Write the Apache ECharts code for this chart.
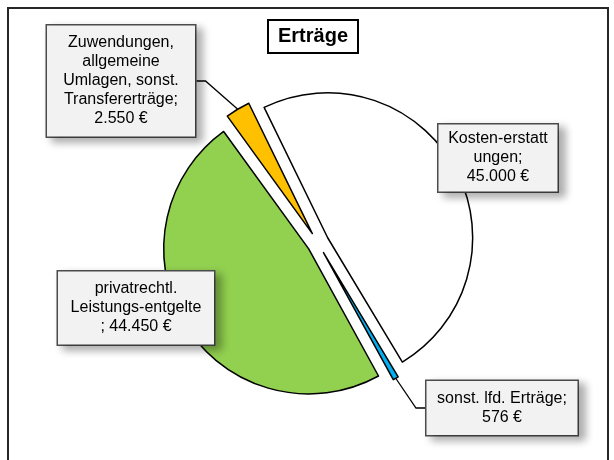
<!DOCTYPE html>
<html>
<head>
<meta charset="utf-8">
<script src="https://cdn.jsdelivr.net/npm/echarts@6/dist/echarts.min.js"></script>
<style>
  html, body { margin: 0; padding: 0; background: #fff; }
  #chart { width: 614px; height: 460px; }
</style>
</head>
<body>
<div id="chart"></div>
<script>
// slices, clockwise from the top
const categories = [
    'Kosten-erstattungen',
    'sonst. lfd. Erträge',
    'privatrechtl. Leistungs-entgelte',
    'Zuwendungen, allgemeine Umlagen, sonst. Transfererträge'
];
const values = [45000, 576, 44450, 2550];
// wrapped label text as in the original
const labelNames = [
    'Kosten-erstatt\nungen;\n',
    'sonst. lfd. Erträge;\n',
    'privatrechtl.\nLeistungs-entgelte\n; ',
    'Zuwendungen,\nallgemeine\nUmlagen, sonst.\nTransfererträge;\n'
];
const colors = ['#ffffff', '#00b0f0', '#92d050', '#ffc000'];

// label boxes: centre x, centre y, box width, vertical padding
const labelBoxes = [
    [498, 158, 120, 5],
    [502, 408, 152, 8],
    [136, 308, 157, 8],
    [121, 81, 149, 8]
];
const showLine = [false, true, false, true];

function fmt(v) {
    return String(v).replace(/\B(?=(\d{3})+(?!\d))/g, '.') + ' €';
}

const font = '"Liberation Sans", Arial, sans-serif';
const pieCenter = [318, 243];
const pieStart = 116;
const explode = 11;

const chart = echarts.init(document.getElementById('chart'));
chart.setOption({
    animation: false,
    backgroundColor: '#fff',
    title: {
        text: 'Erträge',
        left: 268,
        top: 20,
        padding: [5, 10, 5, 10],
        borderColor: '#000',
        borderWidth: 2,
        textStyle: { fontFamily: font, fontSize: 20, fontWeight: 'bold', color: '#000', lineHeight: 23 }
    },
    graphic: [{
        type: 'rect',
        shape: { x: 8, y: 8, width: 600, height: 470 },
        style: { fill: 'none', stroke: '#262626', lineWidth: 2 },
        silent: true
    }],
    series: [{
        // the exploded slices
        type: 'pie',
        center: pieCenter,
        radius: 145,
        startAngle: pieStart,
        clockwise: true,
        selectedMode: 'multiple',
        selectedOffset: explode,
        emphasis: { disabled: true },
        itemStyle: { borderColor: '#000', borderWidth: 1.5 },
        select: { itemStyle: { borderColor: '#000', borderWidth: 1.5 } },
        label: { show: false },
        labelLine: { show: false },
        data: values.map(function (v, i) {
            return {
                name: categories[i],
                value: v,
                selected: true,
                itemStyle: { color: colors[i] }
            };
        })
    }, {
        // same data again, invisible, carries the label boxes and leader lines
        type: 'pie',
        center: pieCenter,
        radius: 145 + explode,
        startAngle: pieStart,
        clockwise: true,
        silent: true,
        emphasis: { disabled: true },
        itemStyle: { color: 'rgba(0,0,0,0)', borderWidth: 0 },
        label: {
            show: true,
            position: 'outside',
            color: '#000',
            fontFamily: font,
            fontSize: 16,
            lineHeight: 19,
            align: 'center',
            backgroundColor: '#f2f2f2',
            borderColor: '#4d4d4d',
            borderWidth: 1.5,
            shadowColor: 'rgba(0,0,0,0.3)',
            shadowBlur: 8,
            shadowOffsetX: 6,
            shadowOffsetY: 4,
            formatter: function (p) {
                return labelNames[p.dataIndex] + fmt(p.value);
            }
        },
        labelLine: {
            show: true,
            length: 10,
            length2: 9,
            smooth: false,
            lineStyle: { color: '#000', width: 1.3, opacity: 1 }
        },
        labelLayout: function (p) {
            const b = labelBoxes[p.dataIndex];
            return { x: b[0], y: b[1], align: 'center', verticalAlign: 'middle' };
        },
        data: values.map(function (v, i) {
            const b = labelBoxes[i];
            return {
                name: categories[i],
                value: v,
                label: { width: b[2] - 13, padding: [b[3], 6] },
                labelLine: { show: showLine[i] }
            };
        })
    }]
});
</script>
</body>
</html>
